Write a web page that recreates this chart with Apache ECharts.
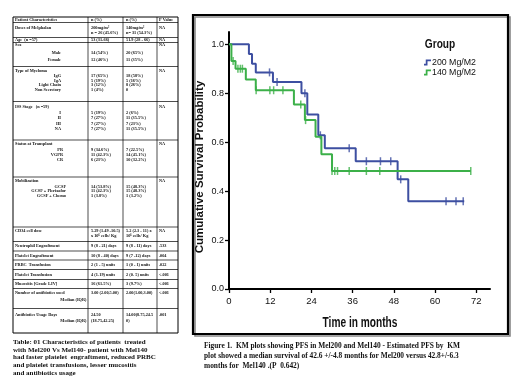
<!DOCTYPE html>
<html><head><meta charset="utf-8">
<script src="https://cdn.jsdelivr.net/npm/echarts@6/dist/echarts.min.js"></script>
<style>html,body{margin:0;padding:0;background:#fff}#c{width:520px;height:390px}</style>
</head><body><div id="c"></div>
<script>
// ---------- KM data ----------
const groups = ['200 Mg/M2', '140 Mg/M2'];
const blueTimes = [0, 5.8, 6.7, 7.8, 12.8, 21.1, 22.8, 26.0, 27.9, 36.9, 49.1, 52.2, 68.5];
const blueSurv  = [1.0, 0.96, 0.92, 0.885, 0.846, 0.80, 0.713, 0.628, 0.575, 0.522, 0.448, 0.359, 0.359];
const blueCensorT = [11.8, 14.0, 22.1, 26.6, 35.0, 40.0, 44.1, 47.1, 50.0, 63.2, 66.1, 68.2];
const blueCensorS = [0.885, 0.846, 0.80, 0.628, 0.575, 0.522, 0.522, 0.522, 0.448, 0.359, 0.359, 0.359];
const greenTimes = [0, 0.7, 1.9, 4.9, 7.8, 18.9, 22.1, 25.2, 26.9, 30.0, 70.4];
const greenSurv  = [1.0, 0.932, 0.90, 0.856, 0.812, 0.754, 0.690, 0.622, 0.551, 0.482, 0.482];
const greenCensorT = [1.2, 2.6, 3.3, 3.9, 7.9, 11.9, 13.0, 15.7, 20.9, 22.3, 30.0, 30.8, 31.6, 35.0, 40.0, 43.9, 70.4];
const greenCensorS = [0.932, 0.90, 0.90, 0.90, 0.812, 0.812, 0.812, 0.812, 0.754, 0.690, 0.482, 0.482, 0.482, 0.482, 0.482, 0.482, 0.482];
const xTicks = [0, 12, 24, 36, 48, 60, 72];
const yTicks = [0, 0.2, 0.4, 0.6, 0.8, 1.0];
const xTitle = 'Time in months';
const yTitle = 'Cumulative Survival Probability';
const legendTitle = 'Group';

// ---------- Table text ----------
const tableHeader = ['Patient Characteristics', 'n (%)', 'n (%)', 'P Value'];
const rowLabels = [
  ['Doses of Melphalan'], ['Age  (n =57)'], ['Sex', 'Male', 'Female'],
  ['Type of Myeloma', 'IgG', 'IgA', 'Light Chain', 'Non Secretory'],
  ['ISS Stage   (n =59)', 'I', 'II', 'III', 'NA'],
  ['Status at Transplant', 'PR', 'VGPR', 'CR'],
  ['Mobilization', 'GCSF', 'GCSF + Plerixafor', 'GCSF + Chemo'],
  ['CD34 cell dose'], ['Neutrophil Engraftment'], ['Platelet Engraftment'], ['PRBC  Transfusion'],
  ['Platelet Transfusion'], ['Mucositis [Grade I-IV]'],
  ['Number of antibiotics used', 'Median (IQR)'], ['Antibiotics Usage Days', 'Median (IQR)']
];
const col200 = [
  ['200mg/m²', 'n = 26 (45.6%)'], ['53 (31-66)'], ['', '14 (54%)', '12 (46%)'],
  ['', '17 (65%)', '5 (19%)', '3 (12%)', '1 (4%)'],
  ['', '5 (19%)', '7 (27%)', '7 (27%)', '7 (27%)'],
  ['', '9 (34.6%)', '11 (42.3%)', '6 (23%)'],
  ['', '14 (53.8%)', '11 (42.3%)', '1 (3.8%)'],
  ['5.29 (1.49 -10.5)', 'x 10⁶ cells/ Kg'], ['9 (8 - 21) days'], ['10 (8 - 40) days'], ['2 (1 - 5) units'],
  ['4 (1-19) units'], ['16 (61.5%)'], ['3.00 (2.00,5.00)'], ['24.50', '(18.75,42.25)']
];
const col140 = [
  ['140mg/m²', 'n= 31 (54.3%)'], ['51.9 (28 - 66)'], ['', '20 (65%)', '11 (35%)'],
  ['', '18 (58%)', '5 (16%)', '8 (26%)', '0'],
  ['', '2 (6%)', '11 (35.5%)', '7 (23%)', '11 (35.5%)'],
  ['', '7 (22.5%)', '14 (45.1%)', '10 (32.2%)'],
  ['', '15 (48.3%)', '15 (48.3%)', '1 (3.2%)'],
  ['5.2 (2.3 - 11) x', '10⁶ cells/ Kg'], ['9 (8 - 11) days'], ['9 (7 -12) days'], ['1 (0 - 1) units'],
  ['2 (0- 5) units'], ['3 (9.7%)'], ['2.00(1.00,3.00)'], ['14.00(8.75,24.5', '0)']
];
const pValues = ['NA', 'NA', 'NA', 'NA', 'NA', 'NA', 'NA', 'NA', '.533', '.004', '.022', '<.001', '<.001', '<.001', '.001'];
const tableCaption = 'Table: 01 Characteristics of patients  treated\nwith Mel200 Vs Mel140- patient with Mel140\nhad faster platelet  engraftment, reduced PRBC\nand platelet transfusions, lesser mucositis\nand antibiotics usage';
const figCaption = 'Figure 1.  KM plots showing PFS in Mel200 and Mel140 - Estimated PFS by  KM\nplot showed a median survival of 42.6 +/-4.8 months for Mel200 versus 42.8+/-6.3\nmonths for  Mel140 .(P  0.642)';

// ---------- layout (positions only) ----------
const colX = [13, 88, 123, 157, 178];
const rowBounds = [17, 22.5, 37.5, 42.5, 66.5, 101.5, 140, 177, 227, 241.5, 251, 260, 269.5, 279.5, 288.5, 308.5, 333];
const lineY = [
  [27.5, 33], [40], [44.5, 53, 60], [70.5, 76, 80.5, 85, 89.5], [106.5, 112.5, 118, 123.5, 129],
  [143.5, 150, 155, 160], [180.5, 186.5, 191, 195.5], [231, 236], [246], [255.5], [265], [274.5], [284],
  [292.5, 299.5], [315, 320.7]
];
const subRight = [0, 0, 61, 61, 61, 63, 66, 0, 0, 0, 0, 0, 0, 86.5, 86.5];

const tFont = 'bold 4.3px "Liberation Serif", "DejaVu Serif", serif';
const g = [];
function txt(s, x, y, align) {
  g.push({ type: 'text', x: x, y: y, silent: true,
    style: { text: s, font: tFont, fill: '#111', align: align || 'left', verticalAlign: 'middle' } });
}
function ln(x1, y1, x2, y2, w) {
  g.push({ type: 'line', silent: true, shape: { x1, y1, x2, y2 }, style: { stroke: '#000', lineWidth: w || 0.7 } });
}
// table grid
rowBounds.forEach((y, i) => ln(colX[0], y, colX[4], y, (i === 0 || i === rowBounds.length - 1) ? 1 : 0.7));
colX.forEach((x, i) => ln(x, rowBounds[0], x, rowBounds[rowBounds.length - 1], (i === 0 || i === 4) ? 1 : 0.7));
// header
const hy = (rowBounds[0] + rowBounds[1]) / 2;
txt(tableHeader[0], colX[0] + 2, hy); txt(tableHeader[1], colX[1] + 3, hy);
txt(tableHeader[2], colX[2] + 3, hy); txt(tableHeader[3], colX[3] + 2, hy);
// body
rowLabels.forEach((lines, r) => {
  lines.forEach((s, i) => {
    if (i === 0) txt(s, colX[0] + 2, lineY[r][0]);
    else txt(s, subRight[r], lineY[r][i], 'right');
  });
  col200[r].forEach((s, i) => { if (s) txt(s, colX[1] + 3, lineY[r][i]); });
  col140[r].forEach((s, i) => { if (s) txt(s, colX[2] + 3, lineY[r][i]); });
  txt(pValues[r], colX[3] + 2, lineY[r][0]);
});
// captions
g.push({ type: 'text', x: 13, y: 338, silent: true,
  style: { text: tableCaption, font: 'bold 7px "Liberation Serif", serif', lineHeight: 7.8, fill: '#111' } });
g.push({ type: 'text', x: 204, y: 341, silent: true,
  style: { text: figCaption, font: 'bold 7.4px "Liberation Serif", serif', lineHeight: 10, fill: '#111' } });
// chart frame with shadow
g.push({ type: 'rect', silent: true, z: -2, shape: { x: 195, y: 17, width: 315, height: 319 },
  style: { fill: 'none', stroke: '#888', lineWidth: 1.6 } });
g.push({ type: 'rect', silent: true, z: -1, shape: { x: 193, y: 15, width: 315, height: 319 },
  style: { fill: 'none', stroke: '#000', lineWidth: 2.2 } });
// y axis title
g.push({ type: 'text', x: 200, y: 167, rotation: Math.PI / 2, silent: true,
  style: { text: yTitle, font: 'bold 11.5px "Liberation Sans", Arial, sans-serif', fill: '#111', align: 'center', verticalAlign: 'middle' } });
// x axis title (condensed)
g.push({ type: 'text', x: 360, y: 323, scaleX: 0.7, silent: true,
  style: { text: xTitle, font: 'bold 14.5px "Liberation Sans", Arial, sans-serif', fill: '#111', align: 'center', verticalAlign: 'middle' } });
// legend title
g.push({ type: 'text', x: 440, y: 44, scaleX: 0.78, silent: true,
  style: { text: legendTitle, font: 'bold 13px "Liberation Sans", sans-serif', fill: '#111', align: 'center', verticalAlign: 'middle' } });

const blue = '#3d4fa1', green = '#3cb049';
const sans = '"Liberation Sans", Arial, sans-serif';
const zip = (a, b) => a.map((v, i) => [v, b[i]]);
const stepIcon = 'path://M0,10 L6,10 L6,3 L12,3 L12,0 L3,0 L3,7 L0,7 Z';

const chart = echarts.init(document.getElementById('c'), null, { renderer: 'canvas' });
chart.setOption({
  animation: false,
  backgroundColor: '#fff',
  grid: { left: 229, right: 30, top: 32, bottom: 101, containLabel: false, outerBoundsMode: 'none' },
  legend: {
    data: [{ name: groups[0], icon: stepIcon }, { name: groups[1], icon: stepIcon }],
    orient: 'vertical', left: 424, top: 58, itemWidth: 7, itemHeight: 6, itemGap: 1, padding: 0,
    textStyle: { fontFamily: sans, fontSize: 8.8, color: '#111', padding: [0, 0, 0, -4] },
    selectedMode: false
  },
  xAxis: {
    type: 'value', min: 0, max: 76, interval: 12,
    axisLine: { lineStyle: { color: '#000', width: 2 } },
    axisTick: { show: true, length: 4, lineStyle: { color: '#000', width: 1.3 }, customValues: xTicks },
    axisLabel: { customValues: xTicks, fontFamily: sans, fontSize: 9.5, color: '#111', margin: 7 },
    splitLine: { show: false }
  },
  yAxis: {
    type: 'value', min: 0, max: 1.05, interval: 0.2,
    axisLine: { show: true, lineStyle: { color: '#000', width: 2 } },
    axisTick: { show: true, length: 4, lineStyle: { color: '#000', width: 1.3 }, customValues: yTicks },
    axisLabel: { customValues: yTicks, formatter: v => v.toFixed(1), fontFamily: sans, fontSize: 9, color: '#111', margin: 5 },
    splitLine: { show: false }
  },
  series: [
    { name: groups[0], type: 'line', step: 'end', data: zip(blueTimes, blueSurv), showSymbol: false, symbol: 'none',
      lineStyle: { color: blue, width: 2 }, itemStyle: { color: blue }, z: 3 },
    { name: 'c200', type: 'scatter', data: zip(blueCensorT, blueCensorS), symbol: 'rect', symbolSize: [1.5, 8],
      itemStyle: { color: blue }, silent: true, z: 3 },
    { name: groups[1], type: 'line', step: 'end', data: zip(greenTimes, greenSurv), showSymbol: false, symbol: 'none',
      lineStyle: { color: green, width: 2 }, itemStyle: { color: green }, z: 4 },
    { name: 'c140', type: 'scatter', data: zip(greenCensorT, greenCensorS), symbol: 'rect', symbolSize: [1.5, 8],
      itemStyle: { color: green }, silent: true, z: 4 }
  ],
  graphic: { elements: g }
});
</script></body></html>
